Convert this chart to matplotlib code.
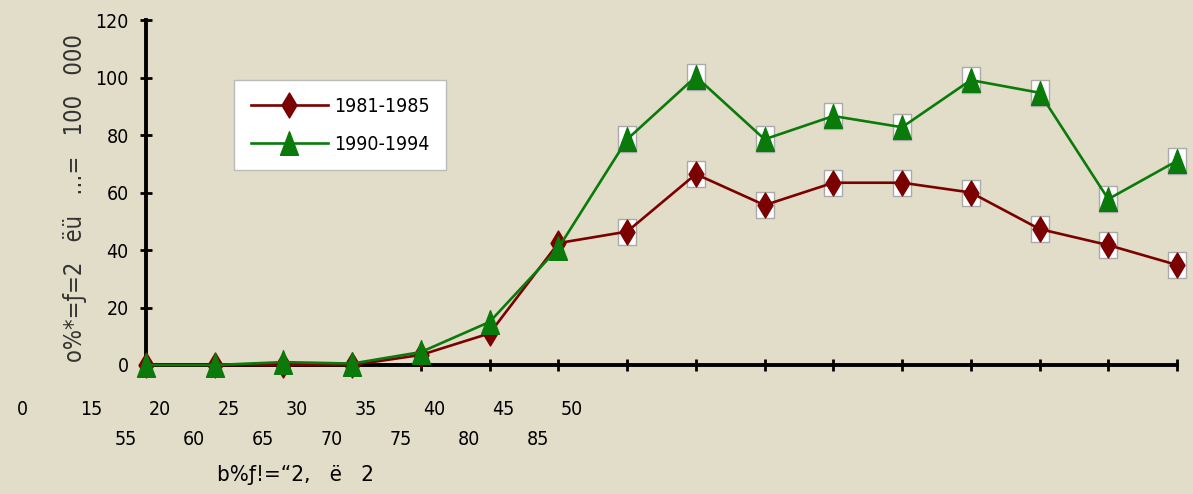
import matplotlib
matplotlib.use("Agg")
import matplotlib.pyplot as plt
from matplotlib.path import Path

# --- data: rate per 100 000 by age group
ages = list(range(15, 95, 5))          # 15 ... 90, 16 groups
rate_8185 = [0, 0, 0, 0, 3.5, 11, 42.4, 46.4, 66.4, 55.6, 63.4, 63.4, 60.0, 47.3, 41.7, 34.8]
rate_9094 = [0, 0, 1, 0.5, 4.5, 15, 40.7, 78.5, 100.3, 78.5, 86.6, 82.7, 99.1, 94.7, 57.7, 71.0]
labels_row1 = ["0", "15", "20", "25", "30", "35", "40", "45", "50"]
labels_row2 = ["55", "60", "65", "70", "75", "80", "85"]
yticks = [0, 20, 40, 60, 80, 100, 120]

BG = "#E2DDC8"
RED = "#7B0000"
GREEN = "#0A7A0A"
plt.rcParams['font.family'] = ['DejaVu Sans']
plt.rcParams['font.stretch'] = 'condensed'

fig = plt.figure(figsize=(11.93, 4.94), dpi=100, facecolor=BG)
ax = fig.add_axes([146/1193, 129/494, 1031/1193, 345/494])
ax.set_facecolor(BG)

x = list(range(len(ages)))

# white boxes behind the later markers
box = Path([(-0.35, -0.5), (0.35, -0.5), (0.35, 0.5), (-0.35, 0.5), (-0.35, -0.5)],
           [Path.MOVETO, Path.LINETO, Path.LINETO, Path.LINETO, Path.CLOSEPOLY])
for ys in (rate_8185, rate_9094):
    ax.plot(x[7:], ys[7:], ls="none", marker=box, ms=19, mfc="white",
            mec="#AAAAAA", mew=1, zorder=2, clip_on=False)

diamond = Path([(0, -0.5), (0.3, 0), (0, 0.5), (-0.3, 0), (0, -0.5)],
               [Path.MOVETO, Path.LINETO, Path.LINETO, Path.LINETO, Path.CLOSEPOLY])
tri = Path([(-0.38, -0.5), (0.38, -0.5), (0, 0.5), (-0.38, -0.5)],
           [Path.MOVETO, Path.LINETO, Path.LINETO, Path.CLOSEPOLY])

ax.plot(x, rate_8185, color=RED, lw=1.9, marker=diamond, ms=18, mfc=RED, mec=RED,
        zorder=3, clip_on=False, label="1981-1985")
ax.plot(x, rate_9094, color=GREEN, lw=1.9, marker=tri, ms=17, mfc=GREEN, mec=GREEN,
        zorder=4, clip_on=False, label="1990-1994")

ax.set_xlim(0, len(ages) - 1)
ax.set_ylim(0, 120)
ax.set_yticks(yticks)
ax.set_yticklabels([str(v) for v in yticks], fontsize=14)
ax.set_xticks(x)
ax.set_xticklabels([])
ax.tick_params(axis="both", direction="inout", length=9, width=2, color="black")
ax.tick_params(axis="y", pad=8)
for s in ("top", "right"):
    ax.spines[s].set_visible(False)
for s in ("left", "bottom"):
    ax.spines[s].set_linewidth(2.8)
    ax.spines[s].set_zorder(1)

# two staggered rows of age labels under the axis
tr = ax.get_xaxis_transform()
for i, t in enumerate(labels_row1):
    ax.text(-1.8 + i, -0.13, t, transform=tr, ha="center", va="center", fontsize=14)
for i, t in enumerate(labels_row2):
    ax.text(-0.3 + i, -0.215, t, transform=tr, ha="center", va="center", fontsize=14)

fig.text(295/1193, 1 - 475/494, "b%ƒ!=“2,   ë   2", ha="center", va="center", fontsize=16)
fig.text(75/1193, 1 - 198/494, "o%*=ƒ=2   ëü   …=   100   000", ha="center", va="center",
         rotation=90, fontsize=17, color="#333333")

leg = ax.legend(loc="upper left", frameon=True, fancybox=False, framealpha=1,
                fontsize=14, handlelength=4.0, borderpad=0.85, labelspacing=1.0,
                handletextpad=0.3, borderaxespad=0)
leg.set_bbox_to_anchor((234/1193, (494 - 80)/494), transform=fig.transFigure)
leg.get_frame().set_facecolor("white")
leg.get_frame().set_edgecolor("#BBBBBB")
leg.get_frame().set_linewidth(1)

fig.savefig("out.png", dpi=100, facecolor=BG)
